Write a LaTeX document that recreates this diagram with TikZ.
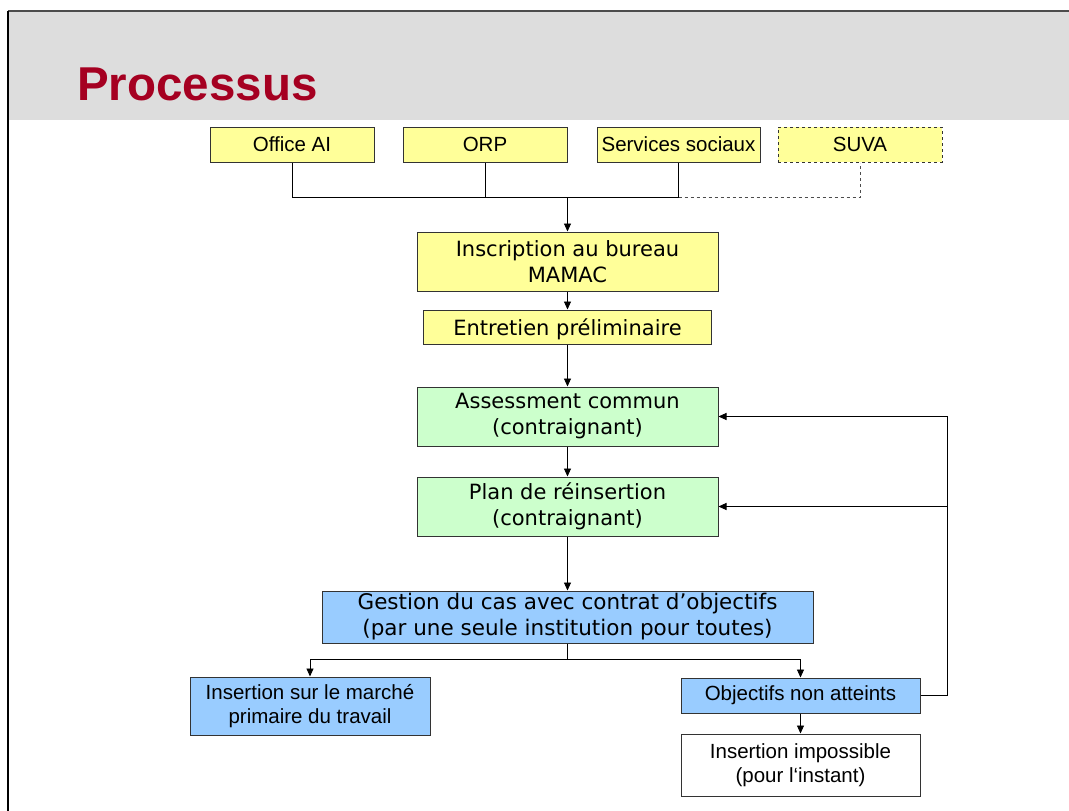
\documentclass[tikz,border=0pt]{standalone}
\usepackage{fontspec}
\setmainfont{Liberation Sans}
\newfontfamily\verd{DejaVu Sans}
\usetikzlibrary{arrows.meta}
\definecolor{yel}{HTML}{FFFF99}
\definecolor{grn}{HTML}{CCFFCC}
\definecolor{blu}{HTML}{99CCFF}
\definecolor{hdr}{HTML}{DDDDDD}
\definecolor{ttl}{HTML}{A50021}
\definecolor{edge}{HTML}{333333}
\begin{document}
\begin{tikzpicture}[x=1pt,y=-1pt,
  box/.style={draw=edge, line width=1pt, inner sep=0pt, align=center},
  abox/.style={box, font=\fontsize{20.5}{24.5}\selectfont},
  vbox/.style={box, font=\verd\fontsize{21}{26}\selectfont},
  conn/.style={draw=black, line width=0.9pt},
  arr/.style={conn, -{Triangle[length=8pt,width=7pt]}}]
\useasboundingbox (0,0) rectangle (1069,811);
% header
\fill[hdr] (8,11) rectangle (1069,120);
\draw[line width=1.5pt, draw=black!70] (1069,11) -- (8,11);
\draw[line width=2pt] (8,11) -- (8,811);
\node[anchor=base west, text=ttl, font=\bfseries\fontsize{47.5}{56}\selectfont, inner sep=0pt] (title) at (77,100) {Processus};
% top boxes
\node[abox, fill=yel, minimum width=164pt, minimum height=35pt] (office) at (292,144.5) {Office AI};
\node[abox, fill=yel, minimum width=164pt, minimum height=35pt] (orp) at (485,144.5) {ORP};
\node[abox, fill=yel, minimum width=163pt, minimum height=35pt] (serv) at (678.5,144.5) {Services sociaux};
\node[abox, fill=yel, dashed, minimum width=164pt, minimum height=35pt] (suva) at (860,144.5) {SUVA};
% main chain
\node[vbox, fill=yel, minimum width=301pt, minimum height=59pt] (insc) at (567.5,261.5) {Inscription au bureau\\MAMAC};
\node[vbox, fill=yel, minimum width=288pt, minimum height=34pt, text height=20pt, text depth=3pt] (entr) at (567.5,327) {Entretien préliminaire};
\node[vbox, fill=grn, minimum width=301pt, minimum height=59pt] (assess) at (567.5,416.5) {Assessment commun\\(contraignant)};
\node[vbox, fill=grn, minimum width=301pt, minimum height=59pt] (plan) at (567.5,506.5) {Plan de réinsertion\\(contraignant)};
\node[vbox, fill=blu, minimum width=491pt, minimum height=52pt, font=\verd\fontsize{21.5}{26}\selectfont] (gest) at (567.5,617) {Gestion du cas avec contrat d’objectifs\\(par une seule institution pour toutes)};
\node[abox, fill=blu, minimum width=240pt, minimum height=58pt] (marche) at (310,706) {Insertion sur le marché\\primaire du travail};
\node[abox, fill=blu, minimum width=239pt, minimum height=35pt] (obj) at (800.5,695.5) {Objectifs non atteints};
\node[abox, fill=white, minimum width=239pt, minimum height=62pt] (imp) at (800.5,765) {Insertion impossible\\(pour l‘instant)};
% top connectors
\coordinate (j1) at (567.5,197);
\draw[conn] (office.south) -- (office.south |- j1) -- (serv.south |- j1);
\draw[conn] (orp.south) -- (orp.south |- j1);
\draw[conn] (serv.south) -- (serv.south |- j1);
\draw[conn, dashed, draw=black!70] (serv.south |- j1) -- (suva.south |- j1) -- (suva.south);
\draw[arr] (j1) -- (insc.north);
\draw[arr] (insc.south) -- (entr.north);
\draw[arr] (entr.south) -- (assess.north);
\draw[arr] (assess.south) -- (plan.north);
\draw[arr] (plan.south) -- (gest.north);
% split
\coordinate (j2) at (567.5,659);
\draw[conn] (gest.south) -- (j2);
\draw[arr] (j2) -| (marche.north);
\draw[arr] (j2) -| (obj.north);
\draw[arr] (obj.south) -- (imp.north);
% feedback
\coordinate (fbt) at (947,416.5);
\draw[arr] (obj.east) -| (fbt) -- (assess.east);
\draw[arr] (fbt |- plan.east) -- (plan.east);
\end{tikzpicture}
\end{document}
